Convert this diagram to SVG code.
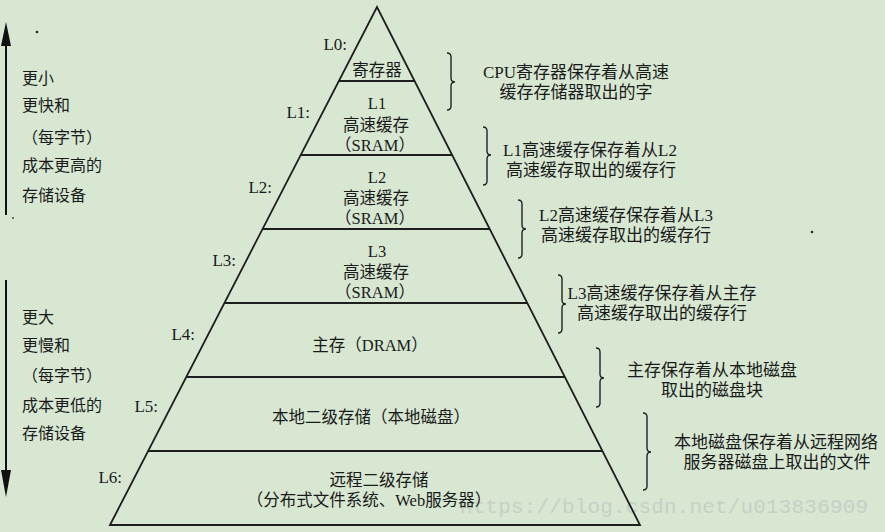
<svg xmlns="http://www.w3.org/2000/svg" width="885" height="532" viewBox="0 0 885 532">
<style>
.t{font-family:"Liberation Serif","Noto Sans CJK SC",serif;fill:#1a1a1a;}
.p{font-size:16.5px;text-anchor:middle;}
.r{font-size:17px;text-anchor:middle;}
.l{font-size:16px;}
.lv{font-size:17px;text-anchor:end;}
.ln{stroke:#1e1e1e;stroke-width:1.8;fill:none;}
.br{stroke:#222;stroke-width:1.4;fill:none;}
.ar{stroke:#111;stroke-width:2;}
.wm{font-family:"Liberation Mono",monospace;font-size:21px;fill:#c6d0c5;}
</style>
<rect width="885" height="532" fill="#d7e7d2"/>
<text class="wm" x="460" y="513" textLength="408">https://blog.csdn.net/u013836909</text>
<g id="connectors">
<line class="ar" x1="6" y1="215" x2="6" y2="40"/>
<polygon points="6,22 1,46 11,46" fill="#111"/>
<line class="ar" x1="6" y1="280" x2="6" y2="475"/>
<polygon points="6,497 1,470 11,470" fill="#111"/>
<circle cx="37" cy="32" r="1.3" fill="#222"/>
<circle cx="13" cy="218" r="1" fill="#444"/>
<circle cx="812" cy="232" r="1.3" fill="#222"/>
</g>
<g id="pyramid">
<path class="ln" d="M110,525 L377,7 L640,525 Z"/>
<line class="ln" x1="338.9" y1="81" x2="414.5" y2="81"/>
<line class="ln" x1="300.7" y1="155" x2="452" y2="155"/>
<line class="ln" x1="262.6" y1="229" x2="489.5" y2="229"/>
<line class="ln" x1="224.4" y1="303" x2="527" y2="303"/>
<line class="ln" x1="186.3" y1="377" x2="564.5" y2="377"/>
<line class="ln" x1="148.2" y1="451" x2="602" y2="451"/>
</g>
<g id="L0">
<text class="t lv" x="347" y="50">L0:</text>
<text class="t p" x="377" y="76">寄存器</text>
</g>
<g id="L1">
<text class="t lv" x="310" y="118">L1:</text>
<text class="t p" x="377" y="109">L1</text>
<text class="t p" x="376" y="131">高速缓存</text>
<text class="t p" x="375" y="151">（SRAM）</text>
</g>
<g id="L2">
<text class="t lv" x="272" y="193">L2:</text>
<text class="t p" x="377" y="183">L2</text>
<text class="t p" x="376" y="204">高速缓存</text>
<text class="t p" x="375" y="224">（SRAM）</text>
</g>
<g id="L3">
<text class="t lv" x="236" y="266">L3:</text>
<text class="t p" x="377" y="257">L3</text>
<text class="t p" x="376" y="278">高速缓存</text>
<text class="t p" x="375" y="298">（SRAM）</text>
</g>
<g id="L4">
<text class="t lv" x="195" y="340">L4:</text>
<text class="t p" x="370" y="351">主存（DRAM）</text>
</g>
<g id="L5">
<text class="t lv" x="158" y="412">L5:</text>
<text class="t p" x="371" y="423">本地二级存储（本地磁盘）</text>
</g>
<g id="L6">
<text class="t lv" x="122" y="483">L6:</text>
<text class="t p" x="379" y="486">远程二级存储</text>
<text class="t p" x="369" y="506">（分布式文件系统、Web服务器）</text>
</g>
<g id="left-top">
<text class="t l" x="22" y="84">更小</text>
<text class="t l" x="22" y="111">更快和</text>
<text class="t l" x="22" y="143">（每字节）</text>
<text class="t l" x="22" y="171">成本更高的</text>
<text class="t l" x="22" y="201">存储设备</text>
</g>
<g id="left-bottom">
<text class="t l" x="22" y="323">更大</text>
<text class="t l" x="22" y="351">更慢和</text>
<text class="t l" x="22" y="381">（每字节）</text>
<text class="t l" x="22" y="411">成本更低的</text>
<text class="t l" x="22" y="439">存储设备</text>
</g>
<g id="note-L0">
<path class="br" d="M447,53 Q451,53 451,57 L451,78 Q451,82 455,82 Q451,82 451,86 L451,106 Q451,110 447,110"/>
<text class="t r" x="576" y="78">CPU寄存器保存着从高速</text>
<text class="t r" x="576" y="98">缓存存储器取出的字</text>
</g>
<g id="note-L1">
<path class="br" d="M483,127 Q487,127 487,131 L487,151 Q487,155 491,155 Q487,155 487,159 L487,181 Q487,185 483,185"/>
<text class="t r" x="590" y="156">L1高速缓存保存着从L2</text>
<text class="t r" x="591" y="176">高速缓存取出的缓存行</text>
</g>
<g id="note-L2">
<path class="br" d="M518,200 Q522,200 522,204 L522,225 Q522,229 526,229 Q522,229 522,233 L522,254 Q522,258 518,258"/>
<text class="t r" x="626" y="221">L2高速缓存保存着从L3</text>
<text class="t r" x="626" y="241">高速缓存取出的缓存行</text>
</g>
<g id="note-L3">
<path class="br" d="M558,275 Q562,275 562,279 L562,300 Q562,304 566,304 Q562,304 562,308 L562,329 Q562,333 558,333"/>
<text class="t r" x="662" y="299">L3高速缓存保存着从主存</text>
<text class="t r" x="662" y="319">高速缓存取出的缓存行</text>
</g>
<g id="note-L4">
<path class="br" d="M596,348 Q600,348 600,352 L600,374 Q600,378 604,378 Q600,378 600,382 L600,403 Q600,407 596,407"/>
<text class="t r" x="712" y="376">主存保存着从本地磁盘</text>
<text class="t r" x="712" y="396">取出的磁盘块</text>
</g>
<g id="note-L5">
<path class="br" d="M643,413 Q647,413 647,417 L647,448 Q647,452 651,452 Q647,452 647,456 L647,486 Q647,490 643,490"/>
<text class="t r" x="776" y="448">本地磁盘保存着从远程网络</text>
<text class="t r" x="777" y="468">服务器磁盘上取出的文件</text>
</g>
</svg>
